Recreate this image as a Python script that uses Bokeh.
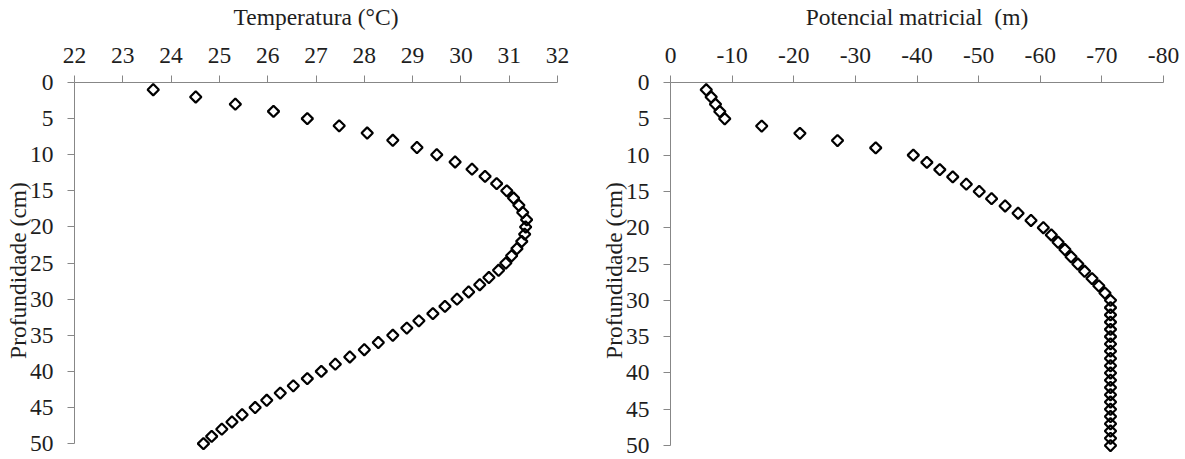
from bokeh.plotting import figure
from bokeh.layouts import row
from bokeh.models import Range1d, FixedTicker
from bokeh.embed import file_html
from bokeh.resources import INLINE

# ---- data ----
depth = list(range(1, 51))
temperature = [23.63, 24.51, 25.33, 26.12, 26.82, 27.48, 28.06, 28.59, 29.09, 29.50,
               29.88, 30.23, 30.50, 30.74, 30.95, 31.09, 31.20, 31.28, 31.36, 31.34,
               31.32, 31.26, 31.16, 31.05, 30.93, 30.78, 30.58, 30.39, 30.16, 29.92,
               29.67, 29.42, 29.13, 28.88, 28.59, 28.29, 28.00, 27.70, 27.40, 27.11,
               26.82, 26.53, 26.26, 25.98, 25.74, 25.47, 25.26, 25.05, 24.84, 24.67]
matric_potential = [-5.8, -6.6, -7.3, -8.0, -8.8, -14.8, -21.0, -27.1, -33.3, -39.4,
                    -41.6, -43.7, -45.8, -48.0, -50.1, -52.1, -54.3, -56.4, -58.5, -60.5,
                    -61.8, -62.9, -64.0, -65.0, -66.1, -67.2, -68.4, -69.5, -70.5, -71.4,
                    -71.4, -71.4, -71.4, -71.4, -71.4, -71.4, -71.4, -71.4, -71.4, -71.4,
                    -71.4, -71.4, -71.4, -71.4, -71.4, -71.4, -71.4, -71.4, -71.4, -71.4]
temp_ticks = [22, 23, 24, 25, 26, 27, 28, 29, 30, 31, 32]
pot_ticks = [0, -10, -20, -30, -40, -50, -60, -70, -80]
depth_ticks = [0, 5, 10, 15, 20, 25, 30, 35, 40, 45, 50]

FONT = "Liberation Serif"
AXIS_GRAY = "#878787"
TEXT = "#1e1e1e"
FS = "23.5px"


def make_panel(x, xlabel, xstart, xend, xticks, width, yend, bl, br):
    p = figure(width=width, height=459, output_backend="svg",
               toolbar_location=None, x_axis_location="above",
               x_range=Range1d(xstart, xend), y_range=Range1d(yend, 0),
               min_border_left=bl, min_border_right=br,
               min_border_top=79, min_border_bottom=1)
    p.outline_line_color = None
    p.grid.visible = False
    p.background_fill_color = "white"
    p.border_fill_color = "white"

    p.scatter(x, depth, marker="square", angle=0.785398, size=8,
              fill_color=None, line_color="black", line_width=2.2)

    xa = p.xaxis[0]
    xa.ticker = FixedTicker(ticks=xticks)
    xa.major_label_overrides = {t: str(t) for t in xticks}
    xa.axis_label = xlabel
    ya = p.yaxis[0]
    ya.ticker = FixedTicker(ticks=depth_ticks)
    ya.axis_label = "Profundidade (cm)"
    ya.bounds = (0, 50)
    for ax in (xa, ya):
        ax.axis_line_color = AXIS_GRAY
        ax.major_tick_line_color = AXIS_GRAY
        ax.minor_tick_line_color = None
        ax.major_tick_out = 7
        ax.major_tick_in = 0
        ax.major_label_text_font = FONT
        ax.major_label_text_font_size = FS
        ax.major_label_text_color = TEXT
        ax.axis_label_text_font = FONT
        ax.axis_label_text_font_size = FS
        ax.axis_label_text_font_style = "normal"
        ax.axis_label_text_color = TEXT
    xa.major_label_standoff = 13
    xa.axis_label_standoff = 15
    ya.major_label_standoff = 14
    ya.axis_label_standoff = -4
    return p


p1 = make_panel(temperature, "Temperatura (\u00b0C)", 22, 32, temp_ticks,
                595, 52.06, 74, 38)
p2 = make_panel(matric_potential, "Potencial matricial\u00a0 (m)", 0, -80, pot_ticks,
                590, 51.78, 75, 22)

layout = row(p1, p2)
open("out.html", "w").write(file_html(layout, INLINE))
